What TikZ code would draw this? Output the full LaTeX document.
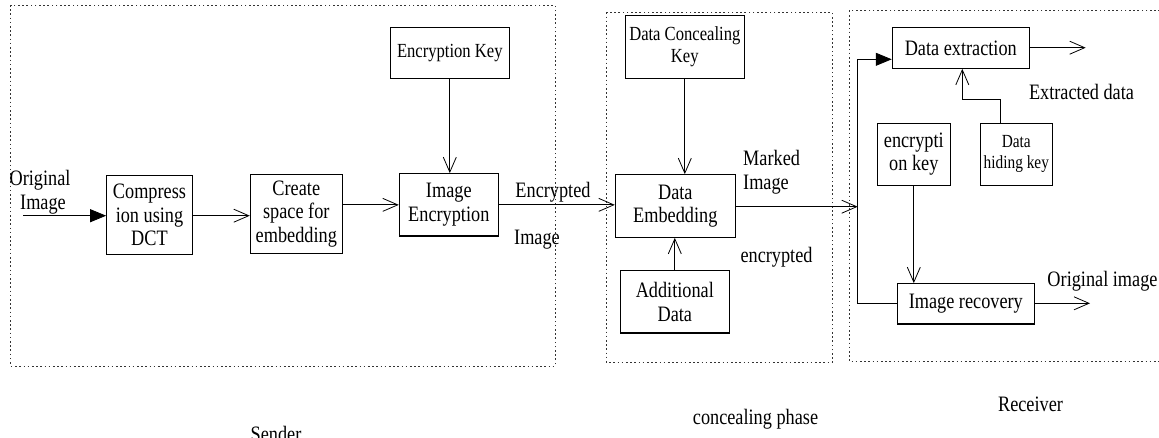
\documentclass[tikz,border=0pt]{standalone}
\usepackage{fontspec}
\setmainfont{Liberation Serif}[FakeStretch=0.83]
\usetikzlibrary{arrows.meta}
\tikzset{
  txt/.style={font=\fontsize{22}{23.5}\selectfont, inner sep=0pt, align=center},
  blk/.style={draw, line width=1.1pt, txt, minimum width=#1},
  frame/.style={draw=black!80, line width=0.8pt, dash pattern=on 1.6pt off 2.6pt},
  conn/.style={line width=0.8pt},
  openarr/.style={conn, -{Straight Barb[length=15pt,width=13pt,line width=0.8pt]}},
  fillarr/.style={conn, -{Triangle[length=16pt,width=13pt]}}
}
\begin{document}
\begin{tikzpicture}[x=1pt,y=-1pt]
\useasboundingbox (0,0) rectangle (1159,437);
% frames
\draw[frame] (10.7,5) rectangle (555,366);
\draw[frame] (606.7,12.3) rectangle (832,362.7);
\draw[frame] (849,10.7) rectangle (1175,361);
% blocks
\node[blk=85.6pt, minimum height=78.6pt] (comp) at (149.5,215) {Compress\\ion using\\DCT};
\node[blk=92pt, minimum height=79pt] (create) at (296.3,213.8) {Create\\space for\\embedding};
\node[blk=119pt, minimum height=50.6pt, font=\fontsize{20}{22}\selectfont] (enckey) at (449.8,53) {Encryption Key};
\node[blk=99pt, minimum height=62.3pt] (imgenc) at (448.8,204.85) {Image\\Encryption};
\node[blk=119pt, minimum height=62.6pt, font=\fontsize{20}{22}\selectfont] (dck) at (684.8,47) {Data Concealing\\Key};
\node[blk=120pt, minimum height=62.6pt] (embed) at (675.3,206) {Data\\Embedding};
\node[blk=109pt, minimum height=62.3pt] (addl) at (674.8,301.85) {Additional\\Data};
\node[blk=137pt, minimum height=40.6pt] (extract) at (960.8,48) {Data extraction};
\node[blk=73pt, minimum height=62pt] (enckey2) at (913.8,154.3) {encrypti\\on key};
\node[blk=72pt, minimum height=62pt, font=\fontsize{18.5}{21}\selectfont] (hidekey) at (1016.3,154.3) {Data\\hiding key};
\node[blk=137pt, minimum height=40.3pt] (recov) at (965.8,303.85) {Image recovery};
% labels
\node[txt] (lorig) at (40,192) {Original\\\hspace*{6pt}Image};
\node[txt] (lenc) at (553,192) {Encrypted};
\node[txt] (limg) at (537,240) {Image};
\node[txt, anchor=west, align=left] (lmark) at (743,172) {Marked\\Image};
\node[txt] (lencr) at (776.5,257) {encrypted};
\node[txt] (lext) at (1081.5,91.7) {Extracted data};
\node[txt] (lorigimg) at (1102.5,281) {Original image};
\node[txt] (lsend) at (276,434) {Sender};
\node[txt] (lconc) at (755.5,419) {concealing phase};
\node[txt] (lrecv) at (1030.5,404) {Receiver};
% coordinates
\coordinate (src) at (23.3,215.7);
\coordinate (rx) at (857.7,206.7);
\coordinate (rtop) at (857.7,59.3);
\coordinate (rbot) at (857.7,303.3);
\coordinate (hk) at (962.3,99);
\coordinate (extout) at (1085.7,47.7);
\coordinate (recout) at (1090,303.3);
% connectors
\draw[fillarr] (src) -- (src -| comp.west);
\draw[openarr] (comp.east |- src) -- (src -| create.west);
\draw[openarr] (create.east |- imgenc) -- (imgenc.west);
\draw[openarr] (enckey.south) -- (enckey.south |- imgenc.north);
\draw[openarr] (imgenc.east) -- (imgenc.east -| embed.west);
\draw[openarr] (dck.south) -- (dck.south |- embed.north);
\draw[openarr] (addl.north) -- (addl.north |- embed.south);
\draw[openarr] (embed.east |- rx) -- (rx);
\draw[conn] (rtop) -- (rbot) -- (rbot -| recov.west);
\draw[fillarr] (rtop) -- (rtop -| extract.west);
\draw[openarr] (extract.east |- extout) -- (extout);
\draw[openarr] ([xshift=-16.3pt]hidekey.north) |- (hk) -- (hk |- extract.south);
\draw[openarr] (enckey2.south) -- (enckey2.south |- recov.north);
\draw[openarr] (recov.east |- recout) -- (recout);
\end{tikzpicture}
\end{document}
